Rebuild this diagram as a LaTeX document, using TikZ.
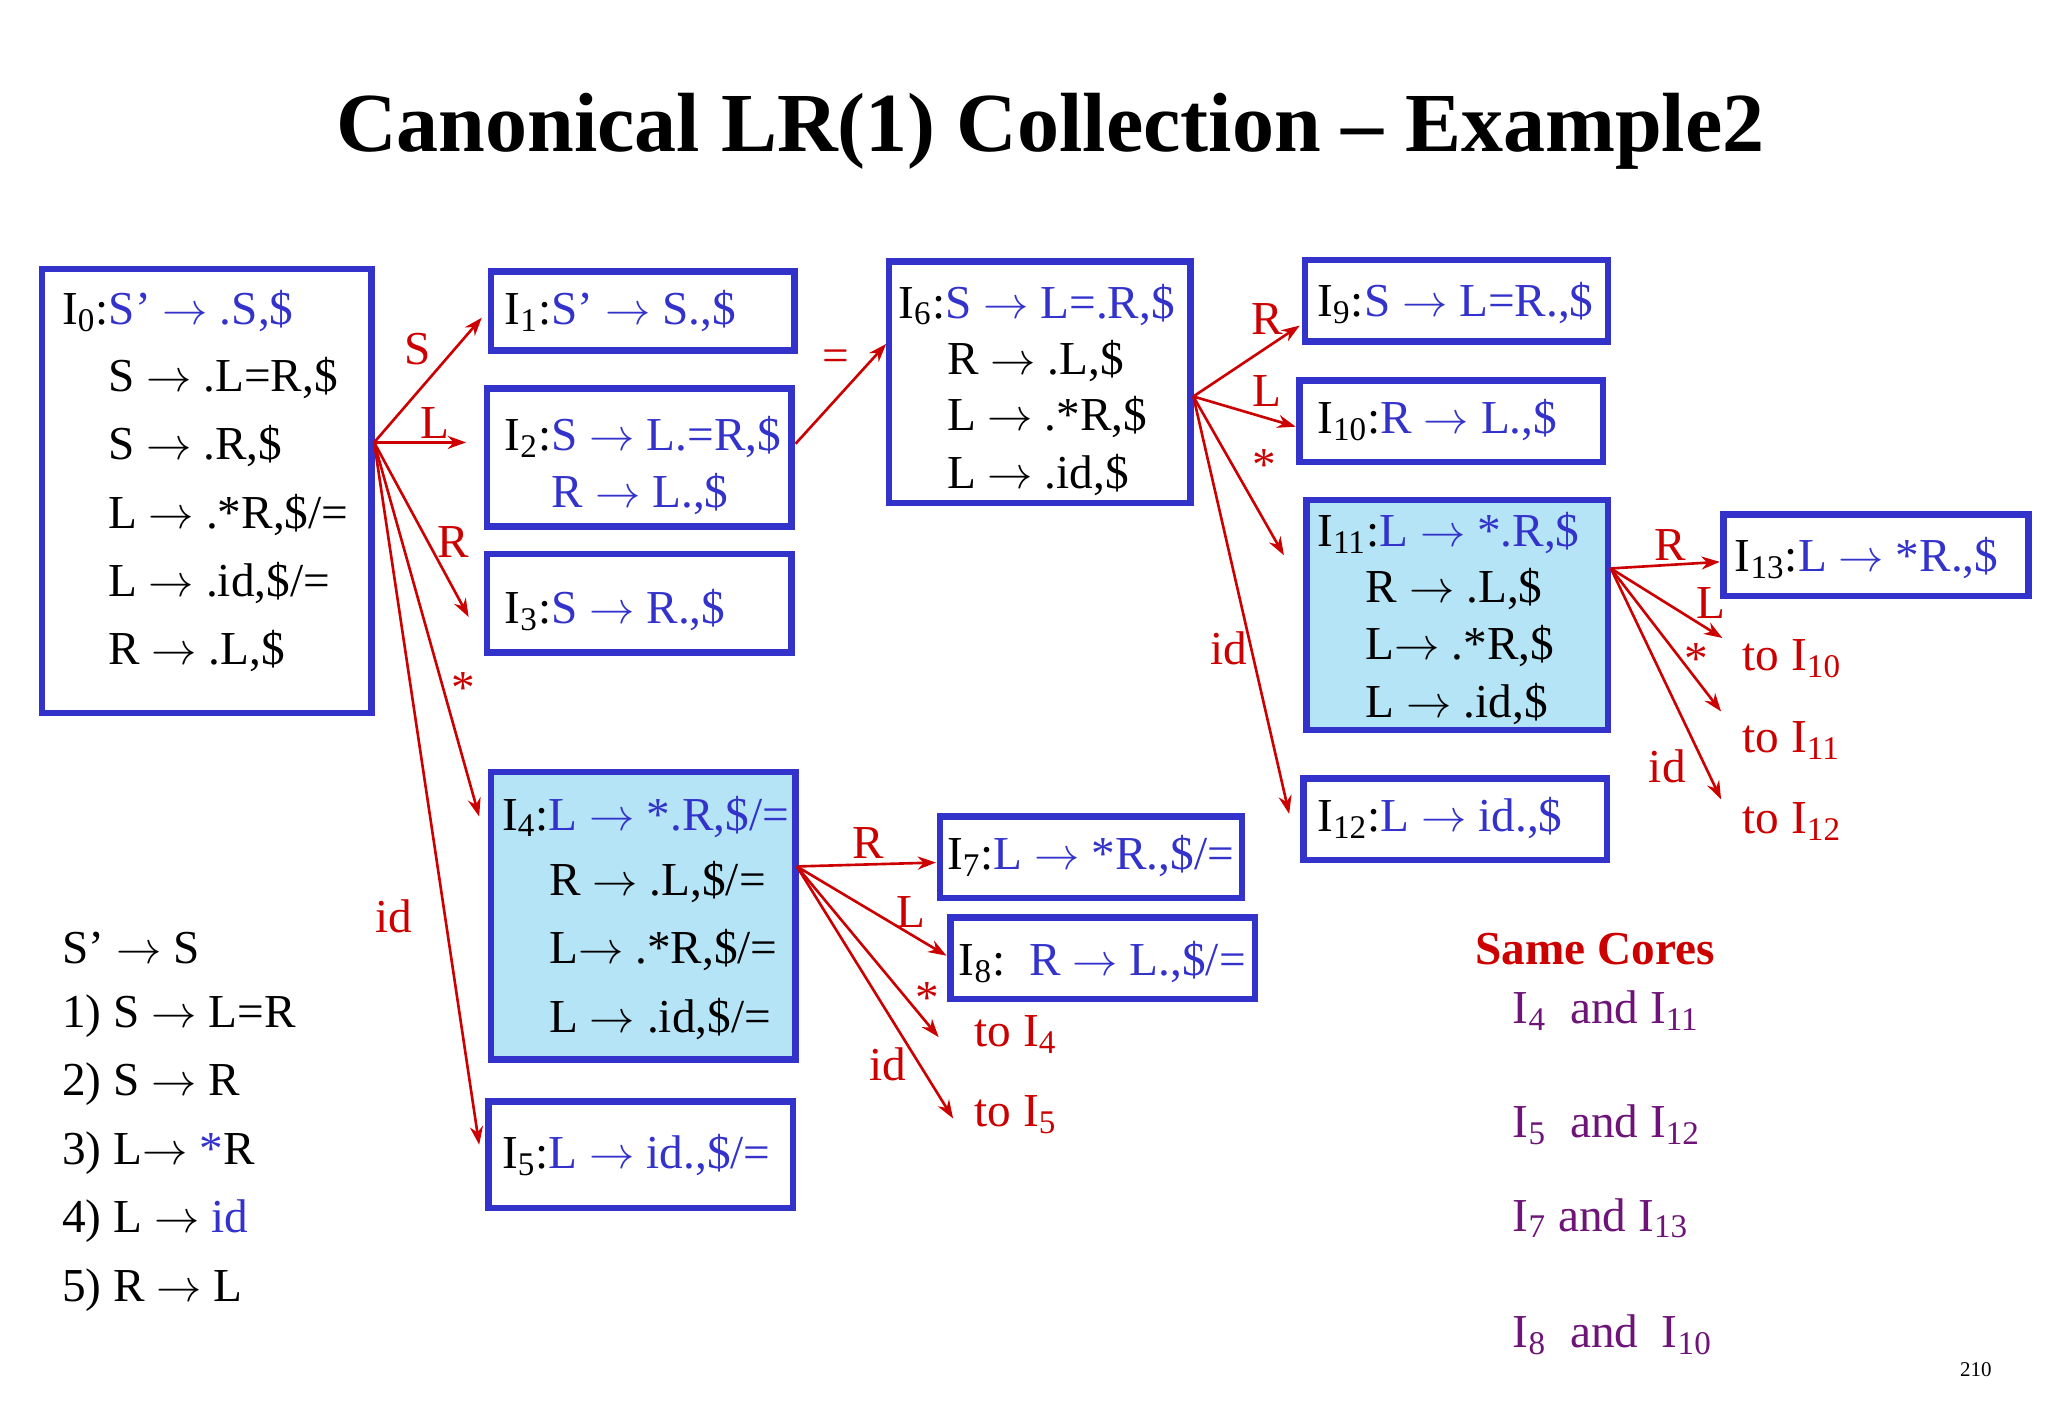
\documentclass[tikz,border=0pt]{standalone}
\usepackage{fontspec}
\setmainfont{Liberation Serif}
\usetikzlibrary{fit,arrows.meta}
\definecolor{bl}{RGB}{51,51,204}
\definecolor{rd}{RGB}{204,0,0}
\definecolor{lb}{RGB}{180,228,246}
\definecolor{pu}{RGB}{110,20,120}
\newcommand{\ra}{\ensuremath{\rightarrow}}
\begin{document}
\begin{tikzpicture}[x=0.5pt,y=-0.5pt,
 box/.style={draw=bl,line width=2.5pt,inner sep=0pt},
 fbox/.style={box,fill=lb},
 t/.style={anchor=west,inner sep=0pt,font=\fontsize{18}{20}\selectfont},
 lab/.style={inner sep=0pt,text=rd,font=\fontsize{18}{20}\selectfont},
 ar/.style={draw=rd,line width=1pt,-{Stealth[length=7pt,width=5pt]}},
 pt/.style={anchor=west,inner sep=0pt,text=pu,font=\fontsize{18}{20}\selectfont}]
\useasboundingbox (0,0) rectangle (1560,1080);
\node[inner sep=0pt,font=\fontsize{32}{35}\selectfont\bfseries] (title) at (800,100) {Canonical LR(1) Collection – Example2};
% boxes
\node[box,fit={(32,205)(283,543)}] (I0) {};
\node[box,fit={(374,207)(605,267)}] (I1) {};
\node[box,fit={(371,296)(603,401)}] (I2) {};
\node[box,fit={(371,422)(603,497)}] (I3) {};
\node[fbox,fit={(374,588)(606,807)}] (I4) {};
\node[box,fit={(372,839)(604,920)}] (I5) {};
\node[box,fit={(677,199)(907,383)}] (I6) {};
\node[box,fit={(716,622)(946,684)}] (I7) {};
\node[box,fit={(724,699)(956,761)}] (I8) {};
\node[box,fit={(994,198)(1225,260)}] (I9) {};
\node[box,fit={(990,290)(1221,352)}] (I10) {};
\node[fbox,fit={(995,381)(1225,556)}] (I11) {};
\node[box,fit={(993,593)(1224,655)}] (I12) {};
\node[box,fit={(1313,392)(1545,454)}] (I13) {};
% texts
\node[t] (a0) at (47,237) {I\textsubscript{0}:\textcolor{bl}{S’ \ra{} .S,\$}};
\node[t] (a1) at (82,288) {S \ra{} .L=R,\$};
\node[t] (a2) at (82,340) {S \ra{} .R,\$};
\node[t] (a3) at (82,392) {L \ra{} .*R,\$/=};
\node[t] (a4) at (82,444) {L \ra{} .id,\$/=};
\node[t] (a5) at (82,496) {R \ra{} .L,\$};
\node[t] (b1) at (384,237) {I\textsubscript{1}:\textcolor{bl}{S’ \ra{} S.,\$}};
\node[t] (b2) at (384,333) {I\textsubscript{2}:\textcolor{bl}{S \ra{} L.=R,\$}};
\node[t,text=bl] (b2b) at (420,376) {R \ra{} L.,\$};
\node[t] (b3) at (384,465) {I\textsubscript{3}:\textcolor{bl}{S \ra{} R.,\$}};
\node[t] (b4) at (382,622) {I\textsubscript{4}:\textcolor{bl}{L \ra{} *.R,\$/=}};
\node[t] (b4b) at (418,672) {R \ra{} .L,\$/=};
\node[t] (b4c) at (418,724) {L\ra{} .*R,\$/=};
\node[t] (b4d) at (418,776) {L \ra{} .id,\$/=};
\node[t] (b5) at (382,880) {I\textsubscript{5}:\textcolor{bl}{L \ra{} id.,\$/=}};
\node[t] (c6) at (684,232) {I\textsubscript{6}:\textcolor{bl}{S \ra{} L=.R,\$}};
\node[t] (c6b) at (721,275) {R \ra{} .L,\$};
\node[t] (c6c) at (721,318) {L \ra{} .*R,\$};
\node[t] (c6d) at (721,362) {L \ra{} .id,\$};
\node[t] (c7) at (721,652) {I\textsubscript{7}:\textcolor{bl}{L \ra{} *R.,\$/=}};
\node[t] (c8) at (730,733) {I\textsubscript{8}:\ \ \textcolor{bl}{R \ra{} L.,\$/=}};
\node[t] (d9) at (1003,231) {I\textsubscript{9}:\textcolor{bl}{S \ra{} L=R.,\$}};
\node[t] (d10) at (1003,320) {I\textsubscript{10}:\textcolor{bl}{R \ra{} L.,\$}};
\node[t] (d11) at (1003,406) {I\textsubscript{11}:\textcolor{bl}{L \ra{} *.R,\$}};
\node[t] (d11b) at (1040,449) {R \ra{} .L,\$};
\node[t] (d11c) at (1040,492) {L\ra{} .*R,\$};
\node[t] (d11d) at (1040,536) {L \ra{} .id,\$};
\node[t] (d12) at (1003,623) {I\textsubscript{12}:\textcolor{bl}{L \ra{} id.,\$}};
\node[t] (e13) at (1321,425) {I\textsubscript{13}:\textcolor{bl}{L \ra{} *R.,\$}};
% arrows from I0
\coordinate (o0) at (285,337);
\coordinate (s1) at (367,242); \coordinate (s2) at (355,337); \coordinate (s3) at (357,470);
\coordinate (s4) at (365,622); \coordinate (s5) at (365,872);
\draw[ar] (o0) -- (s1); \draw[ar] (o0) -- (s2); \draw[ar] (o0) -- (s3);
\draw[ar] (o0) -- (s4); \draw[ar] (o0) -- (s5);
\node[lab] (l1) at (318,266) {S}; \node[lab] (l2) at (331,322) {L};
\node[lab] (l3) at (345,413) {R}; \node[lab] (l4) at (353,524) {*};
\node[lab] (l5) at (300,698) {id};
% I2 -> I6
\coordinate (o2) at (606,338); \coordinate (s6) at (675,262);
\draw[ar] (o2) -- (s6); \node[lab] (l6) at (637,275) {=};
% I6
\coordinate (o6) at (909,302);
\coordinate (s9) at (990,248); \coordinate (s10) at (987,325); \coordinate (s11) at (978,423); \coordinate (s12) at (982,620);
\draw[ar] (o6) -- (s9); \draw[ar] (o6) -- (s10); \draw[ar] (o6) -- (s11); \draw[ar] (o6) -- (s12);
\node[lab] (l9) at (965,243) {R}; \node[lab] (l10) at (965,298) {L};
\node[lab] (l11) at (963,354) {*}; \node[lab] (l12) at (936,494) {id};
% I11
\coordinate (o11) at (1227,433);
\coordinate (s13) at (1310,428); \coordinate (t10) at (1312,486); \coordinate (t11) at (1311,542); \coordinate (t12) at (1311,609);
\draw[ar] (o11) -- (s13); \draw[ar] (o11) -- (t10); \draw[ar] (o11) -- (t11); \draw[ar] (o11) -- (t12);
\node[lab] (l13) at (1272,415) {R}; \node[lab] (l14) at (1303,459) {L};
\node[lab] (l15) at (1292,502) {*}; \node[lab] (l16) at (1270,584) {id};
\node[t,text=rd] (to10) at (1327,502) {to I\textsubscript{10}};
\node[t,text=rd] (to11) at (1327,564) {to I\textsubscript{11}};
\node[t,text=rd] (to12) at (1327,626) {to I\textsubscript{12}};
% I4
\coordinate (o4) at (607,660);
\coordinate (s7) at (713,657); \coordinate (s8) at (721,728); \coordinate (u4) at (715,790); \coordinate (u5) at (726,852);
\draw[ar] (o4) -- (s7); \draw[ar] (o4) -- (s8); \draw[ar] (o4) -- (u4); \draw[ar] (o4) -- (u5);
\node[lab] (l17) at (661,642) {R}; \node[lab] (l18) at (694,695) {L};
\node[lab] (l19) at (706,760) {*}; \node[lab] (l20) at (676,811) {id};
\node[t,text=rd] (to4) at (742,788) {to I\textsubscript{4}};
\node[t,text=rd] (to5) at (742,849) {to I\textsubscript{5}};
% grammar
\node[t] (g0) at (47,722) {S’ \ra{} S};
\node[t] (g1) at (47,774) {1) S \ra{} L=R};
\node[t] (g2) at (47,826) {2) S \ra{} R};
\node[t] (g3) at (47,878) {3) L\ra{} \textcolor{bl}{*}R};
\node[t] (g4) at (47,930) {4) L \ra{} \textcolor{bl}{id}};
\node[t] (g5) at (47,983) {5) R \ra{} L};
% same cores
\node[inner sep=0pt,text=rd,font=\fontsize{18}{20}\selectfont\bfseries] (sc) at (1215,723) {Same Cores};
\node[pt] (p1) at (1152,770) {I\textsubscript{4}\ \ and I\textsubscript{11}};
\node[pt] (p2) at (1152,857) {I\textsubscript{5}\ \ and I\textsubscript{12}};
\node[pt] (p3) at (1152,928) {I\textsubscript{7} and I\textsubscript{13}};
\node[pt] (p4) at (1152,1017) {I\textsubscript{8}\ \ and\ \ I\textsubscript{10}};
\node[inner sep=0pt,font=\fontsize{8}{9}\selectfont] (pg) at (1505,1043) {210};
\end{tikzpicture}
\end{document}
